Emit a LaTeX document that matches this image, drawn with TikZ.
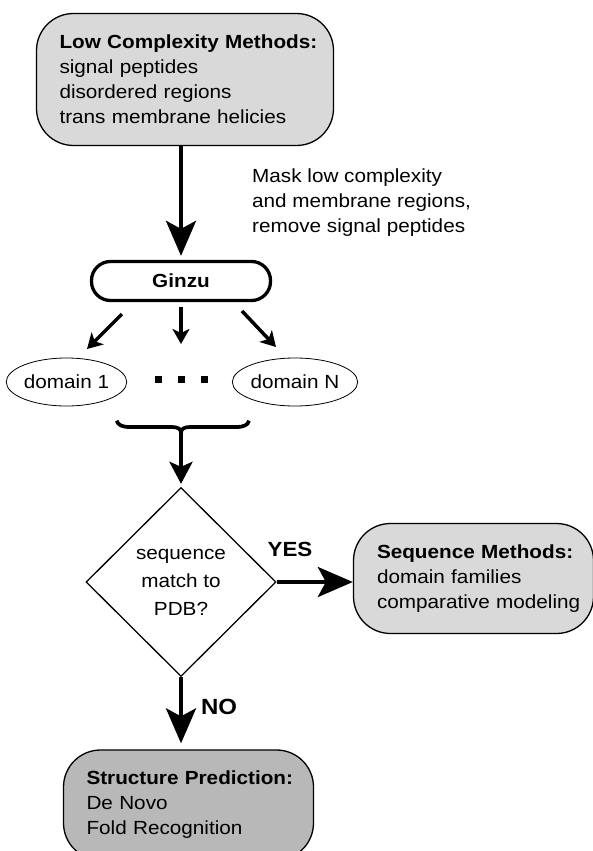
\documentclass[tikz,border=0pt]{standalone}
\usepackage{fontspec}
\setmainfont{Liberation Sans}[FakeStretch=1.09]
\usepackage{tikz}
\usetikzlibrary{positioning, arrows.meta, shapes}
\definecolor{boxlight}{gray}{0.85}
\definecolor{boxdark}{gray}{0.72}
\hyphenpenalty=10000

\begin{document}
\begin{tikzpicture}[x=1pt, y=-1pt,
		every node/.style={font=\fontsize{19}{25}\selectfont},
		methodbox/.style={draw, line width=1.3pt, rounded corners=37pt, align=left, inner xsep=23pt, inner ysep=0pt},
		boldtext/.style={font=\bfseries\fontsize{19}{25}\selectfont},
		domainnode/.style={draw, ellipse, line width=0.8pt, minimum width=112pt, minimum height=48pt, inner sep=0pt},
		bigarrow/.style={line width=4pt, -{Stealth[length=35pt, width=30pt, inset=8pt]}},
		midarrow/.style={line width=4pt, -{Stealth[length=22pt, width=23pt, inset=5pt]}},
		smallarrow/.style={line width=3.5pt, -{Stealth[length=15pt, width=17pt, inset=4pt]}}]
		
		\clip (0,0) rectangle (593,851);
		
		\node[methodbox, fill=boxlight, minimum width=297pt, minimum height=132pt, text width=251pt] (lowcx) at (185,79.5) {\textbf{Low~Complexity~Methods:}\\signal peptides\\disordered regions\\trans~membrane~helicies};
		\node[draw, boldtext, line width=3.3pt, rounded corners=19pt, minimum width=179pt, minimum height=39pt, inner sep=0pt] (ginzu) at (181,281) {Ginzu};
		\draw[bigarrow, shorten >=4pt] (ginzu.north |- lowcx.south) -- (ginzu.north);
		\node[anchor=west, align=left, inner sep=0pt] (masknote) at (252,203) {Mask low complexity\\and membrane regions,\\remove signal peptides};
		
		\node[domainnode] (dom1) at (66.5,382) {domain 1};
		\node[domainnode] (domN) at (295,382) {domain N};
		\coordinate (split1a) at (122,314); \coordinate (split1b) at (87,349);
		\coordinate (split2a) at (181,307); \coordinate (split2b) at (181,344);
		\coordinate (split3a) at (242,311); \coordinate (split3b) at (276,347);
		\foreach \a/\b in {split1a/split1b, split2a/split2b, split3a/split3b}
			\draw[smallarrow] (\a) -- (\b);
		\foreach \x in {158,181,204}
			\fill (\x-3.5,375.5) rectangle ++(7,7);
		
		\coordinate (cusp) at (181,433);
		\draw[line width=3.7pt] (116.7,420.7) .. controls (118,425) and (122,427) .. (130,427) -- (172,427) .. controls (178,427) and (181,429) .. (cusp) .. controls (181,429) and (184,427) .. (190,427) -- (236,427) .. controls (244,427) and (248,425) .. (249,420.7);
		
		\node[draw, diamond, line width=1.3pt, minimum width=190pt, minimum height=189pt, inner sep=0pt, align=center, font=\fontsize{19}{28}\selectfont] (decision) at (181,582) {sequence\\match to\\PDB?};
		\draw[midarrow, shorten >=3pt] (cusp) -- (decision.north);
		
		\node[methodbox, fill=boxlight, minimum width=240pt, minimum height=110pt, text width=193pt, inner xsep=23.5pt] (seqbox) at (473.5,578.5) {\textbf{Sequence~Methods:}\\domain families\\comparative~modeling};
		\node[boldtext, font=\bfseries\fontsize{20.5}{25}\selectfont] (yeslabel) at (290,549) {YES};
		\draw[bigarrow] (decision.east) -- (decision.east -| seqbox.west);
		
		\node[methodbox, fill=boxdark, minimum width=250pt, minimum height=110pt, text width=204pt] (strucbox) at (188.5,805) {\textbf{Structure~Prediction:}\\De Novo\\Fold Recognition};
		\node[boldtext, font=\bfseries\fontsize{22}{25}\selectfont] (nolabel) at (219,707) {NO};
		\draw[bigarrow, shorten >=6pt] (decision.south) -- (decision.south |- strucbox.north);
		
\end{tikzpicture}
\end{document}
